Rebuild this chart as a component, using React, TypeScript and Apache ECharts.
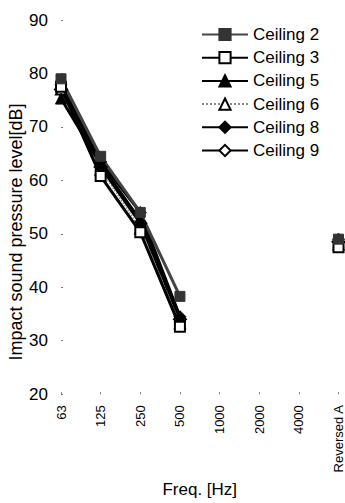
import React, { useEffect, useRef } from "react";
import * as echarts from "echarts";

const categories = ["63", "125", "250", "500", "1000", "2000", "4000", "Reversed A"];
const ceiling2 = [79, 64.5, 54, 38.3, null, null, null, 49];
const ceiling3 = [77.5, 60.8, 50.3, 32.6, null, null, null, 47.5];
const ceiling5 = [75.3, 63, 52.5, 34.5, null, null, null, 48.5];
const ceiling6 = [77, 62, 51, 33.2, null, null, null, 48];
const ceiling8 = [78, 63.5, 54, 34.5, null, null, null, 49];
const ceiling9 = [77, 62.5, 52, 34, null, null, null, 48.5];
const yTicks = [20, 30, 40, 50, 60, 70, 80, 90];

const FONT = "'Liberation Sans', Arial, sans-serif";

export default function App() {
  const ref = useRef<HTMLDivElement>(null);
  useEffect(() => {
    if (!ref.current) return;
    const chart = echarts.init(ref.current, undefined, { renderer: "svg" });
    const filled = (symbol: string, color = "#000") => ({
      symbol,
      itemStyle: { color, borderColor: color, borderWidth: 1 },
    });
    const empty = (symbol: string) => ({
      symbol,
      itemStyle: { color: "#fff", borderColor: "#000", borderWidth: 2 },
    });
    const base = {
      type: "line" as const,
      connectNulls: false,
      symbolSize: 10,
      showAllSymbol: true,
    };
    chart.setOption({
      animation: false,
      backgroundColor: "#fff",
      textStyle: { fontFamily: FONT },
      grid: { left: 61, right: 2, top: 20, bottom: 80, containLabel: false },
      legend: {
        orient: "vertical",
        left: 196,
        top: 21,
        itemWidth: 46,
        itemHeight: 14,
        itemGap: 6.2,
        textStyle: { fontSize: 17, color: "#000", fontFamily: FONT },
        data: ["Ceiling 2", "Ceiling 3", "Ceiling 5", "Ceiling 6", "Ceiling 8", "Ceiling 9"],
      },
      xAxis: {
        type: "category",
        data: categories,
        boundaryGap: false,
        name: "Freq. [Hz]",
        nameLocation: "middle",
        nameGap: 69,
        nameTextStyle: { fontSize: 17, color: "#000", fontFamily: FONT },
        axisLine: { show: false },
        axisTick: { show: true, length: 2, inside: true, lineStyle: { color: "#777", width: 1 } },
        axisLabel: { rotate: 90, fontSize: 13, color: "#000", margin: 11, fontFamily: FONT, interval: 0 },
        splitLine: { show: false },
      },
      yAxis: {
        type: "value",
        min: yTicks[0],
        max: yTicks[yTicks.length - 1],
        interval: 10,
        axisLine: { show: false },
        axisTick: { show: true, length: 2, inside: true, lineStyle: { color: "#777", width: 1 } },
        axisLabel: { fontSize: 17, color: "#000", margin: 13, fontFamily: FONT },
        splitLine: { show: false },
      },
      graphic: [
        {
          type: "text",
          x: 16,
          y: 232,
          rotation: Math.PI / 2,
          style: {
            text: "Impact sound pressure level[dB]",
            fontSize: 18,
            fontFamily: FONT,
            fill: "#000",
            align: "center",
            verticalAlign: "middle",
          },
        },
      ],
      series: [
        {
          ...base,
          name: "Ceiling 9",
          data: ceiling9,
          ...empty("diamond"),
          symbolSize: 12,
          lineStyle: { color: "#000", width: 3 },
        },
        {
          ...base,
          name: "Ceiling 8",
          data: ceiling8,
          ...filled("diamond"),
          symbolSize: 12,
          lineStyle: { color: "#000", width: 3 },
        },
        {
          ...base,
          name: "Ceiling 6",
          data: ceiling6,
          ...empty("triangle"),
          lineStyle: { color: "#888", width: 1.5, type: "dotted" },
        },
        {
          ...base,
          name: "Ceiling 5",
          data: ceiling5,
          ...filled("triangle"),
          symbolSize: 11,
          lineStyle: { color: "#000", width: 3 },
        },
        {
          ...base,
          name: "Ceiling 3",
          data: ceiling3,
          ...empty("rect"),
          lineStyle: { color: "#000", width: 3 },
        },
        {
          ...base,
          name: "Ceiling 2",
          data: ceiling2,
          ...filled("rect", "#333"),
          lineStyle: { color: "#444", width: 3 },
        },
      ],
    });
    return () => chart.dispose();
  }, []);
  return (
    <div
      ref={ref}
      style={{ position: "fixed", left: 0, top: 0, width: 345, height: 503, background: "#fff" }}
    />
  );
}
